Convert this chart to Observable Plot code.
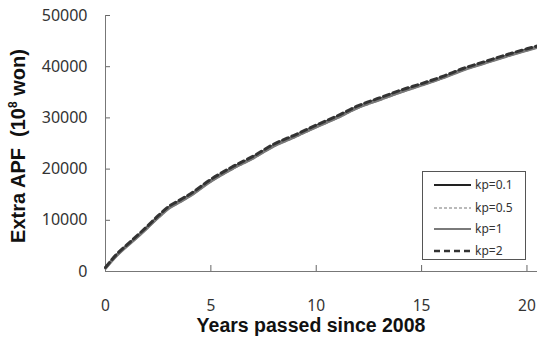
<!DOCTYPE html>
<html><head><meta charset="utf-8">
<script src="https://cdn.jsdelivr.net/npm/d3@7"></script>
<script src="https://cdn.jsdelivr.net/npm/@observablehq/plot@0.6"></script>
<style>
body{margin:0;background:#fff;}
#wrap{position:relative;width:537px;height:342px;font-family:"Noto Sans",sans-serif;}
#xlab{position:absolute;left:311px;transform:translateX(-50%);white-space:nowrap;top:315px;line-height:20px;font:bold 19.5px/20px "Liberation Sans",Arial,sans-serif;color:#111;}
#ylab{position:absolute;left:18px;top:146px;transform:translate(-50%,-50%) rotate(-90deg);white-space:nowrap;font:bold 20px "Liberation Sans",Arial,sans-serif;color:#111;}
#ylab sup{font-size:12px;}
#legend{position:absolute;left:422px;top:171px;width:102px;height:87px;border:1px solid #555;background:#fff;}
.row{position:absolute;left:0;height:16px;}
.row svg{position:absolute;left:10px;top:0;}
.row span{position:absolute;left:52px;top:-1px;font:12px "Noto Sans",sans-serif;color:#333;white-space:nowrap;}
</style></head>
<body><div id="wrap"></div>
<script>
const years = [0,0.5,1,1.5,2,2.5,3,3.5,4,5,6,7,8,9,10,11,12,13,14,15,16,17,18,19,20,20.5];
const kp01 = [700,3100,5000,6800,8700,10700,12500,13700,14900,17800,20200,22300,24700,26500,28400,30200,32200,33700,35200,36500,37900,39500,40800,42100,43300,43900];
const kp05 = [600,2900,4800,6600,8500,10400,12200,13400,14600,17500,19900,22000,24400,26200,28100,29900,31900,33400,34900,36300,37700,39300,40600,41900,43100,43700];
const kp1  = [650,3000,4900,6700,8600,10550,12350,13550,14750,17650,20050,22150,24550,26350,28250,30050,32050,33550,35050,36400,37800,39400,40700,42000,43200,43800];
const kp2  = [800,3250,5150,7000,8900,10900,12700,13900,15100,18000,20400,22500,24900,26700,28600,30400,32400,33900,35400,36700,38100,39700,41000,42300,43500,44050];
const seriesNames = ["kp=0.1","kp=0.5","kp=1","kp=2"];
const seriesVals = [kp01,kp05,kp1,kp2];
const styles = [
  {stroke:"#222", strokeWidth:2.6, dash:null},
  {stroke:"#777", strokeWidth:1.3, dash:"3,2"},
  {stroke:"#7a7a7a", strokeWidth:3, dash:null},
  {stroke:"#333", strokeWidth:3, dash:"6,4"}
];
const legendWidths = [2, 1.2, 2, 2.6];
const xTicks = [0,5,10,15,20];
const yTicks = [0,10000,20000,30000,40000,50000];

const rows = [];
seriesNames.forEach((s,i)=>years.forEach((y,j)=>rows.push({series:s,year:y,value:seriesVals[i][j]})));

const lineMarks = seriesNames.map((s,i)=>Plot.line(rows.filter(r=>r.series===s),{
  x:"year", y:"value", stroke:styles[i].stroke, strokeWidth:styles[i].strokeWidth,
  strokeDasharray:styles[i].dash, curve:"monotone-x"
}));

const chart = Plot.plot({
  width:537, height:342,
  marginLeft:105, marginRight:0, marginTop:15, marginBottom:71,
  style:{fontFamily:"'Noto Sans',sans-serif", background:"#fff"},
  x:{domain:[0,20.5]},
  y:{domain:[0,50000]},
  marks:[
    Plot.axisX({ticks:xTicks, tickSize:-6, tickPadding:34, label:null, fontSize:15.5, stroke:"#666", color:"#333", tickFormat:d=>String(d)}),
    Plot.axisY({ticks:yTicks, tickSize:-5, tickPadding:23, label:null, fontSize:16, stroke:"#666", color:"#333", tickFormat:d=>String(d)}),
    Plot.ruleX([0],{stroke:"#777"}),
    Plot.ruleY([0],{stroke:"#777"}),
    ...lineMarks
  ]
});
const wrap = document.getElementById("wrap");
wrap.appendChild(chart);

const xl = document.createElement("div"); xl.id="xlab"; xl.textContent="Years passed since 2008"; wrap.appendChild(xl);
const yl = document.createElement("div"); yl.id="ylab"; yl.innerHTML="Extra APF&nbsp;&nbsp;(10<sup>8</sup> won)"; wrap.appendChild(yl);

const leg = document.createElement("div"); leg.id="legend";
const rowTops = [5,28,49,71];
seriesNames.forEach((s,i)=>{
  const r = document.createElement("div"); r.className="row"; r.style.top=rowTops[i]+"px";
  const st = styles[i];
  r.innerHTML = `<svg width="40" height="16"><line x1="1" x2="38" y1="8" y2="8" stroke="${st.stroke}" stroke-width="${legendWidths[i]}" ${st.dash?`stroke-dasharray="${st.dash}"`:""}/></svg><span>${s}</span>`;
  leg.appendChild(r);
});
wrap.appendChild(leg);
</script>
</body></html>
